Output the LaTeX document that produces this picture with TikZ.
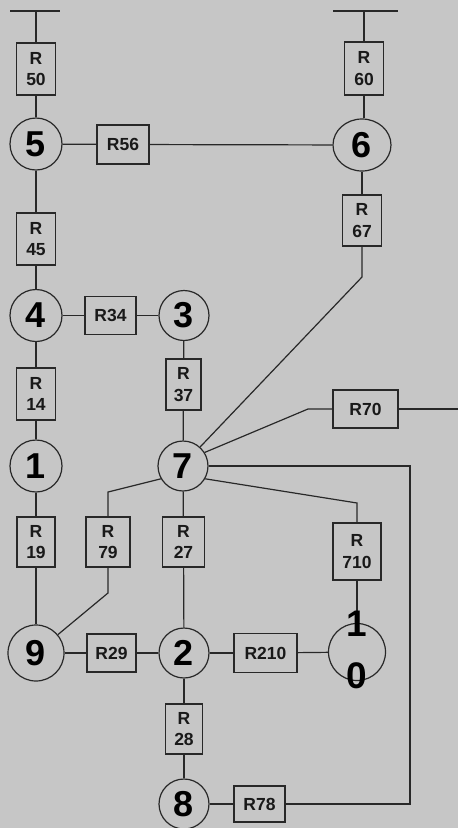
\documentclass[tikz,border=0pt]{standalone}
\usepackage{fontspec}
\setmainfont{Liberation Sans}
\usetikzlibrary{shapes.geometric}
\definecolor{paper}{RGB}{198,198,198}
\definecolor{ink}{RGB}{40,40,40}
\tikzset{
  wire/.style={draw=ink, line width=1.2pt},
  rbox/.style={draw=ink, line width=1.3pt, rectangle, inner sep=0pt, align=center,
    font=\fontsize{17.5}{21.5}\selectfont\bfseries, text=black!90},
  bus/.style={circle, draw=ink, line width=1.2pt, minimum size=52pt, inner sep=0pt,
    font=\fontsize{36}{36}\selectfont\bfseries, text=black},
  big/.style={inner sep=0pt, font=\fontsize{37}{37}\selectfont\bfseries, text=black}
}
\begin{document}
\begin{tikzpicture}[x=1pt,y=-1pt]
\fill[paper] (0,0) rectangle (458,828);
\useasboundingbox (0,0) rectangle (458,828);

% buses
\node[bus] (n5) at (36,144) {5};
\node[bus, ellipse, minimum width=58pt, minimum height=52pt] (n6) at (362,145) {6};
\node[bus] (n4) at (36,315.5) {4};
\node[bus, minimum size=50pt] (n3) at (184,315.5) {3};
\node[bus] (n1) at (36,466) {1};
\node[bus, minimum size=50pt] (n7) at (183,466) {7};
\node[bus, minimum size=56pt] (n9) at (36,653) {9};
\node[bus, minimum size=50pt] (n2) at (184,653) {2};
\node[bus, minimum size=50pt] (n8) at (184,804) {8};
\node[circle, draw=ink, line width=1.2pt, minimum size=57pt, inner sep=0pt] (n10) at (357,652) {};

% resistors
\node[rbox, minimum width=39pt, minimum height=52pt] (R50) at (36,69) {R\\50};
\node[rbox, minimum width=39pt, minimum height=53pt] (R60) at (364,68.5) {R\\60};
\node[rbox, minimum width=52pt, minimum height=39pt] (R56) at (123,144.5) {R56};
\node[rbox, minimum width=39pt, minimum height=51pt] (R67) at (362,220.5) {R\\67};
\node[rbox, minimum width=39pt, minimum height=52pt] (R45) at (36,239) {R\\45};
\node[rbox, minimum width=51pt, minimum height=38pt] (R34) at (110.5,315.5) {R34};
\node[rbox, minimum width=39pt, minimum height=52pt] (R14) at (36,394) {R\\14};
\node[rbox, minimum width=35pt, minimum height=51pt] (R37) at (183.5,384.5) {R\\37};
\node[rbox, minimum width=65pt, minimum height=38pt] (R70) at (365.5,409) {R70};
\node[rbox, minimum width=38pt, minimum height=50pt] (R19) at (36,542) {R\\19};
\node[rbox, minimum width=44pt, minimum height=50pt] (R79) at (108,542) {R\\79};
\node[rbox, minimum width=42pt, minimum height=50pt] (R27) at (183.5,542) {R\\27};
\node[rbox, minimum width=48pt, minimum height=57pt] (R710) at (357,551.5) {R\\710};
\node[rbox, minimum width=49pt, minimum height=38pt] (R29) at (111.5,653) {R29};
\node[rbox, minimum width=63pt, minimum height=39pt] (R210) at (265.5,653) {R210};
\node[rbox, minimum width=37pt, minimum height=50pt] (R28) at (184,729) {R\\28};
\node[rbox, minimum width=51pt, minimum height=36pt] (R78) at (259.5,804) {R78};

% coordinates
\coordinate (tlA) at (10,11);
\coordinate (tlB) at (60,11);
\coordinate (trA) at (333,11);
\coordinate (trB) at (398,11);
\coordinate (b67) at (362,277);
\coordinate (b70) at (308,409);
\coordinate (e70) at (458,409);
\coordinate (c78a) at (410,466);
\coordinate (c78b) at (410,804);
\coordinate (b710) at (357,503);
\coordinate (b79a) at (108,492);
\coordinate (b79b) at (108,593);

% connectors
\draw[wire] (tlA) -- (tlB);
\draw[wire] (R50.north) -- (R50.north |- tlA);
\draw[wire] (trA) -- (trB);
\draw[wire] (R60.north) -- (R60.north |- trA);
\draw[wire] (R50) -- (n5);
\draw[wire] (n5) -- (R45);
\draw[wire] (R45) -- (n4);
\draw[wire] (n4) -- (R14);
\draw[wire] (R14) -- (n1);
\draw[wire] (n1) -- (R19);
\draw[wire] (R19) -- (n9);
\draw[wire] (n5) -- (R56);
\draw[wire] (R56) -- (n6);
\draw[wire] (R60.south) -- (n6.north -| R60.south);
\draw[wire] (n6) -- (R67);
\draw[wire] (R67.south) -- (b67) -- (n7.48);
\draw[wire] (n4) -- (R34);
\draw[wire] (R34) -- (n3);
\draw[wire] (n3) -- (R37);
\draw[wire] (R37) -- (n7);
\draw[wire] (n7.32) -- (b70) -- (R70.west);
\draw[wire] (R70.east) -- (e70);
\draw[wire] (n7.east) -- (c78a) -- (c78b) -- (R78.east);
\draw[wire] (R78.west) -- (n8);
\draw[wire] (n7.-30) -- (b710) -- (R710.north);
\draw[wire] (n7.210) -- (b79a) -- (R79.north);
\draw[wire] (R79.south) -- (b79b) -- (n9.40);
\draw[wire] (n7) -- (R27);
\draw[wire] (R27) -- (n2);
\draw[wire] (n9) -- (R29);
\draw[wire] (R29) -- (n2);
\draw[wire] (n2) -- (R210);
\draw[wire] (R210) -- (n10);
\draw[wire] (R710.south) -- (n10.north);
\draw[wire] (n2) -- (R28);
\draw[wire] (R28) -- (n8);

% label of bus 10
\node[big] (n10a) at (357,624) {1};
\node[big] (n10b) at (357,676) {0};
\end{tikzpicture}
\end{document}
